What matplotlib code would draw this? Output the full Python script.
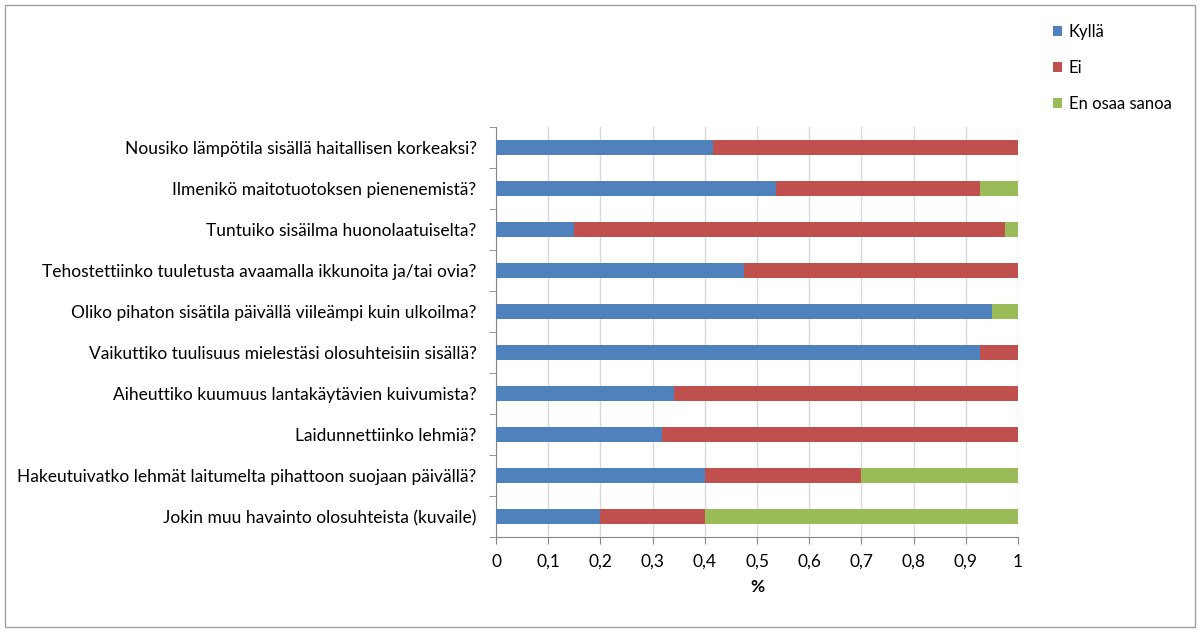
import numpy as np
import matplotlib.pyplot as plt
from matplotlib.patches import Rectangle
from matplotlib.ticker import FuncFormatter, FixedLocator

questions = [
    "Nousiko lämpötila sisällä haitallisen korkeaksi?",
    "Ilmenikö maitotuotoksen pienenemistä?",
    "Tuntuiko sisäilma huonolaatuiselta?",
    "Tehostettiinko tuuletusta avaamalla ikkunoita ja/tai ovia?",
    "Oliko pihaton sisätila päivällä viileämpi kuin ulkoilma?",
    "Vaikuttiko tuulisuus mielestäsi olosuhteisiin sisällä?",
    "Aiheuttiko kuumuus lantakäytävien kuivumista?",
    "Laidunnettiinko lehmiä?",
    "Hakeutuivatko lehmät laitumelta pihattoon suojaan päivällä?",
    "Jokin muu havainto olosuhteista (kuvaile)",
]
kylla = [0.415, 0.536, 0.150, 0.475, 0.951, 0.927, 0.341, 0.318, 0.400, 0.200]
ei = [0.585, 0.391, 0.825, 0.525, 0.000, 0.073, 0.659, 0.682, 0.300, 0.200]
eos = [0.000, 0.073, 0.025, 0.000, 0.049, 0.000, 0.000, 0.000, 0.300, 0.600]

series = ["Kyllä", "Ei", "En osaa sanoa"]
colors = ["#4F81BD", "#C0504D", "#9BBB59"]

plt.rcParams['font.family'] = ['Lato', 'DejaVu Sans']
fs = 12.5

fig = plt.figure(figsize=(12, 6.32), dpi=100)
ax = fig.add_axes([496 / 1200, 1 - 537 / 632, 522 / 1200, 410 / 632])

y = np.arange(len(questions))[::-1]
left = np.zeros(len(questions))
for name, vals, c in zip(series, [kylla, ei, eos], colors):
    ax.barh(y, vals, left=left, height=0.39, color=c, label=name, zorder=3)
    left += np.array(vals)

ax.set_xlim(0, 1)
ax.set_ylim(-0.5, len(questions) - 0.5)
ax.set_xticks(np.arange(0, 1.01, 0.1))
ax.xaxis.set_major_formatter(FuncFormatter(lambda v, p: ("%g" % round(v, 1)).replace(".", ",")))
ax.grid(axis='x', color='#D9D9D9', linewidth=1, zorder=0)
ax.set_yticks(y)
ax.set_yticklabels(questions, fontsize=fs)
ax.yaxis.set_minor_locator(FixedLocator(np.arange(-0.5, len(questions), 1)))
ax.tick_params(axis='y', which='major', length=0, pad=14)
ax.tick_params(axis='y', which='minor', length=5, color='#868686')
ax.tick_params(axis='x', length=5, color='#868686', labelsize=fs, pad=7)
for s in ['top', 'right']:
    ax.spines[s].set_visible(False)
for s in ['left', 'bottom']:
    ax.spines[s].set_color('#868686')
ax.set_xlabel('%', fontsize=fs, fontweight='bold', labelpad=7)

leg = fig.legend(loc='upper left', bbox_to_anchor=(1038 / 1200, 1 - 9 / 632), frameon=False,
                 fontsize=12, handlelength=0.55, handleheight=0.55, labelspacing=1.2,
                 handletextpad=0.4)

fig.add_artist(Rectangle((5 / 1200, 5 / 632), 1190 / 1200, 622 / 632, transform=fig.transFigure,
                         fill=False, edgecolor='#A0A0A0', linewidth=1))

fig.savefig('out.png', dpi=100)
